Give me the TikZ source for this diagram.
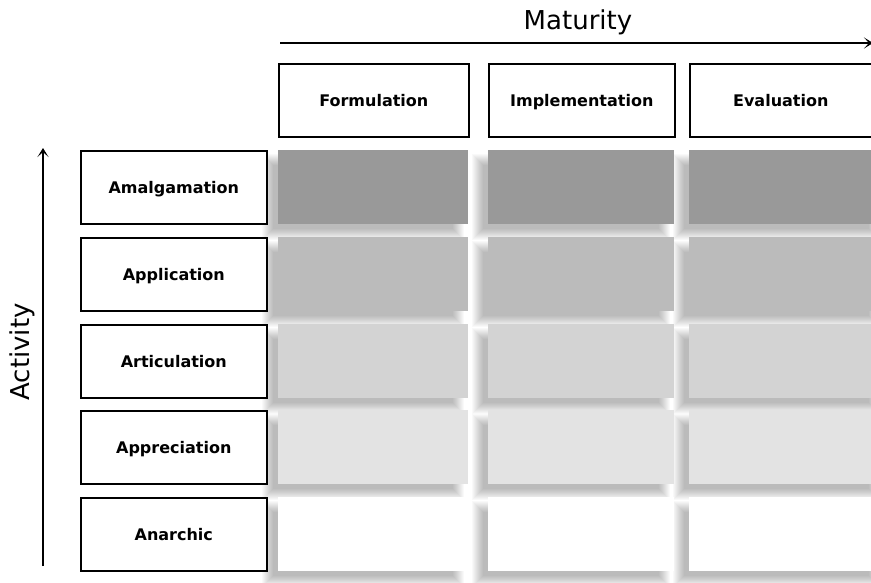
\documentclass[tikz,border=0pt]{standalone}
\usepackage{fontspec}
\setmainfont{DejaVu Sans}
\usetikzlibrary{arrows.meta}

\definecolor{cellA}{RGB}{153,153,153}
\definecolor{cellB}{RGB}{187,187,187}
\definecolor{cellC}{RGB}{211,211,211}
\definecolor{cellD}{RGB}{227,227,227}
\definecolor{cellE}{RGB}{255,255,255}

\tikzset{
  labelbox/.style={draw=black,line width=1.6pt,fill=white,anchor=north west,
    inner sep=0pt,minimum height=73pt,text height=11.6pt,text depth=0pt,
    font=\bfseries\fontsize{16}{18}\selectfont},
  cellbox/.style={anchor=north west,inner sep=0pt,minimum height=74pt},
  shadowpiece/.style={fill=black,fill opacity=0.022},
  axislabel/.style={font=\fontsize{26}{30}\selectfont,inner sep=0pt},
  axisline/.style={line width=1.5pt,-{Stealth[length=9pt,width=11pt,inset=5pt]}}
}

\begin{document}
\begin{tikzpicture}[x=1pt,y=-1pt]
\path[use as bounding box,fill=white] (0,0) rectangle (871,582);
\clip (0,0) rectangle (871,582);

% soft shadows, shifted left and down
\foreach \ry in {150,237,324,410,497}{
  \foreach \cx/\cw in {278/190,488/186,689/195}{
    \foreach \k in {0,...,11}{
      \path[shadowpiece] (\cx-16+\k,\ry+4+\k) rectangle (\cx+\cw-4-\k,\ry+90-\k);
    }
  }
}

% grid cells, one colour per activity level
\foreach \row/\ry/\col in {1/150/cellA,2/237/cellB,3/324/cellC,4/410/cellD,5/497/cellE}{
  \foreach \c/\cx/\cw in {1/278/190,2/488/186,3/689/195}{
    \node[cellbox,fill=\col,minimum width=\cw pt] (cell-\row-\c) at (\cx,\ry) {};
  }
}

% maturity headers
\node[labelbox,minimum width=190pt] (formulation) at (278,63) {Formulation};
\node[labelbox,minimum width=186pt] (implementation) at (488,63) {Implementation};
\node[labelbox,minimum width=195pt] (evaluation) at (689,63) {\hspace*{-13pt}Evaluation};

% activity levels
\node[labelbox,minimum width=186pt] (amalgamation) at (80,150) {Amalgamation};
\node[labelbox,minimum width=186pt] (application) at (80,237) {Application};
\node[labelbox,minimum width=186pt] (articulation) at (80,324) {Articulation};
\node[labelbox,minimum width=186pt] (appreciation) at (80,410) {Appreciation};
\node[labelbox,minimum width=186pt] (anarchic) at (80,497) {Anarchic};

% axes
\coordinate (mat-start) at (280,43);
\coordinate (mat-end) at (873,43);
\draw[axisline] (mat-start) -- (mat-end);
\node[axislabel,anchor=base] (maturity) at (578,29) {Maturity};

\coordinate (act-start) at (43,566);
\coordinate (act-end) at (43,148);
\draw[axisline] (act-start) -- (act-end);
\node[axislabel,rotate=90,anchor=base] (activity) at (30,352) {Activity};
\end{tikzpicture}
\end{document}
